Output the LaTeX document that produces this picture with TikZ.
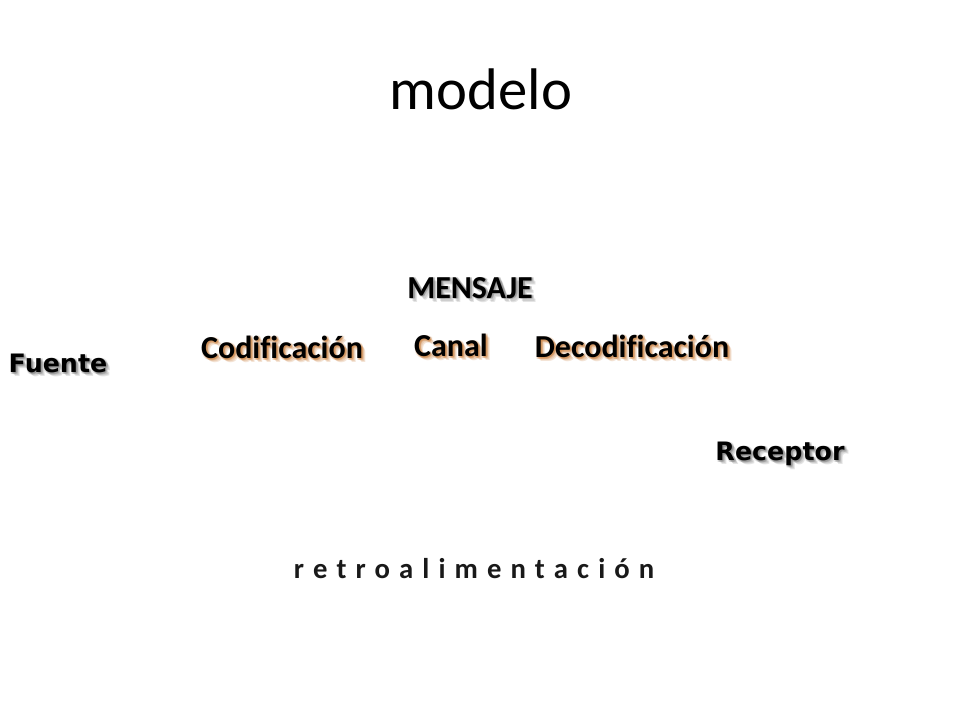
\documentclass[tikz,border=0pt]{standalone}
\usepackage{fontspec}
\setmainfont{Carlito}[Ligatures=NoCommon]
\newfontfamily\verdfont{DejaVu Sans}
\definecolor{glowbrown}{RGB}{200,120,50}
\definecolor{glowgray}{RGB}{120,120,120}
\newcommand\glowlbl[6]{%
  \foreach \dx/\dy [count=\k] in {1/1,2/2,3/3,2/1,1/2,4/4,0/2,2/0} {
    \node[#4, text=#5, opacity=0.2] (#1g\k) at (#2+\dx,#3+\dy) {#6};
  }
  \node[#4] (#1) at (#2,#3) {#6};
}
\begin{document}
\begin{tikzpicture}[x=0.75pt,y=-0.75pt,
  cal/.style={font=\fontsize{24}{28}\selectfont\bfseries, inner sep=0pt, anchor=base, text=black},
  ver/.style={font=\verdfont\fontsize{19}{22}\selectfont\bfseries, inner sep=0pt, anchor=base, text=black},
  title/.style={font=\fontsize{44}{50}\selectfont, inner sep=0pt, anchor=base, text=black},
  retro/.style={font=\addfontfeature{LetterSpace=9}\fontsize{21.5}{25}\selectfont\bfseries, inner sep=0pt, anchor=base, text=black!90}]
\useasboundingbox (0,0) rectangle (960,720);
\fill[white] (0,0) rectangle (960,720);
\node[title] (modelo) at (481,110) {modelo};
\glowlbl{mensaje}{470}{298}{cal}{glowgray}{MENSAJE}
\glowlbl{codif}{282}{358}{cal}{glowbrown}{Codificación}
\glowlbl{canal}{451}{356}{cal}{glowbrown}{Canal}
\glowlbl{decodif}{632}{357}{cal}{glowbrown}{Decodificación}
\glowlbl{fuente}{58}{372}{ver}{glowgray}{Fuente}
\glowlbl{receptor}{780}{460}{ver}{glowgray}{Receptor}
\node[retro] (retroal) at (474,578) {r e t r o a l i m e n t a c i ó n};
\end{tikzpicture}
\end{document}
